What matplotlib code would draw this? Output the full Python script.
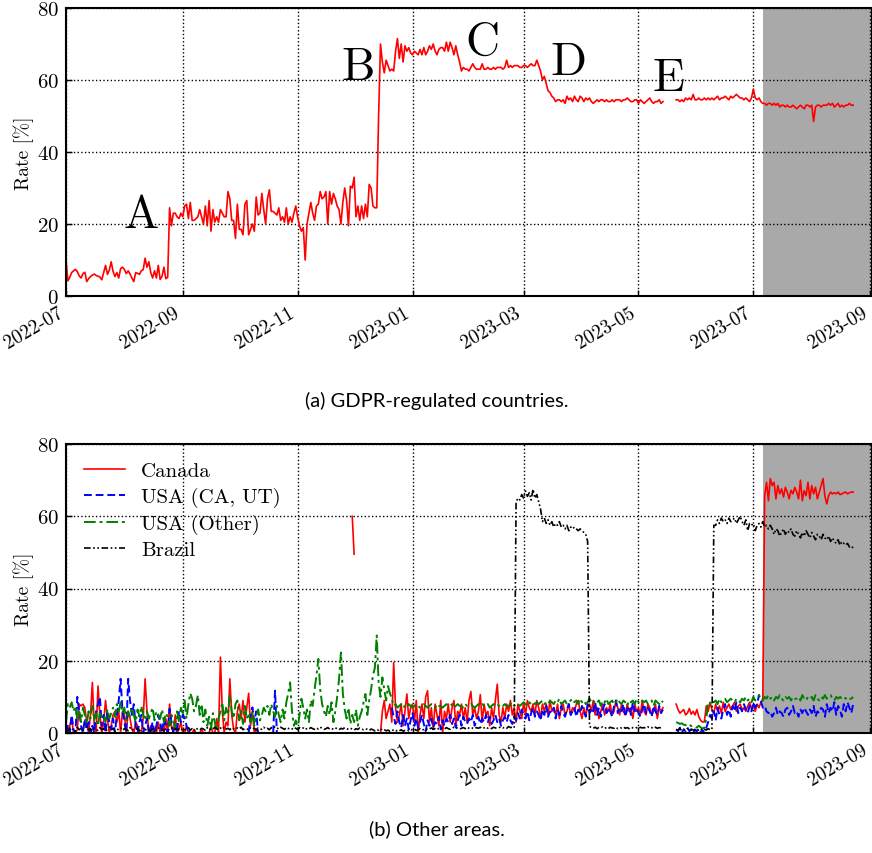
import numpy as np
import pandas as pd
import matplotlib
matplotlib.use("Agg")
import matplotlib.pyplot as plt
import matplotlib.dates as mdates

plt.rcParams['font.family'] = ['cmr10', 'DejaVu Serif']
plt.rcParams['axes.formatter.use_mathtext'] = True

# ---- data (daily values) ----
# GDPR-regulated countries
gdpr_a_start = '2022-07-01'
gdpr_a = [
    10.0, 4.2, 5.2, 6.5, 7.0, 7.4, 6.8, 5.6, 5.0, 6.2,
    6.6, 4.0, 4.8, 5.4, 5.8, 6.1, 5.7, 5.5, 5.3, 4.5,
    6.5, 8.5, 6.0, 7.2, 9.5, 6.8, 5.4, 6.5, 5.0, 7.6,
    8.0, 7.4, 6.2, 7.0, 6.1, 5.0, 4.0, 6.5, 6.3, 6.0,
    7.0, 7.3, 10.5, 8.0, 9.5, 6.5, 5.0, 7.0, 5.0, 8.5,
    4.6, 5.5, 8.0, 4.8, 5.2, 24.5, 19.5, 23.0, 23.0, 22.0,
    21.5, 23.0, 22.0, 25.0, 25.5, 21.5, 26.0, 21.0, 21.0, 21.5,
    22.0, 24.0, 22.0, 20.0, 25.0, 19.5, 26.5, 18.0, 24.0, 20.5,
    22.0, 20.5, 24.0, 23.0, 22.0, 22.0, 29.0, 27.0, 21.0, 21.0,
    16.0, 25.5, 18.5, 18.5, 17.0, 25.5, 26.5, 17.0, 18.5, 20.0,
    18.0, 27.5, 22.5, 23.0, 28.5, 24.0, 20.0, 27.0, 29.5, 23.5,
    23.5, 23.0, 22.5, 24.5, 21.0, 22.0, 20.5, 24.5, 20.0, 22.0,
    20.5, 23.0, 25.0, 22.0, 19.5, 18.0, 19.0, 10.0, 20.0, 23.0,
    26.0, 23.0, 21.0, 25.0, 25.5, 29.0, 27.0, 27.5, 29.0, 20.0,
    29.0, 25.5, 28.5, 27.0, 25.0, 24.0, 20.0, 26.0, 30.0, 26.5,
    19.5, 30.5, 30.0, 33.0, 22.0, 25.0, 21.0, 25.0, 21.5, 25.5,
    22.0, 31.0, 30.0, 25.0, 24.5, 24.5, 50.0, 70.0, 65.0, 62.0,
    65.5, 64.0, 62.5, 63.0, 62.5, 68.0, 71.5, 66.0, 70.0, 65.0,
    69.5, 68.0, 69.0, 67.5, 67.0, 68.0, 67.5, 67.0, 68.5, 67.0,
    69.0, 67.0, 68.0, 69.5, 68.5, 70.0, 68.0, 67.0, 68.5, 69.0,
    69.0, 68.0, 70.5, 68.0, 70.5, 69.0, 67.0, 69.5, 67.0, 65.0,
    62.5, 63.5, 63.0, 63.0, 62.5, 63.5, 64.5, 63.5, 63.0, 63.0,
    63.0, 64.5, 63.0, 63.0, 63.5, 63.0, 63.0, 63.5, 63.0, 63.5,
    63.5, 63.5, 63.0, 63.5, 65.5, 63.5, 64.0, 63.5, 64.0, 64.0,
    64.0, 63.5, 63.5, 64.0, 64.0, 63.5, 64.0, 64.5, 64.0, 64.0,
    65.5, 64.0, 62.5, 60.0, 61.0, 59.0, 57.0, 56.5, 55.5, 55.0,
    54.0, 54.5, 54.5, 54.0, 54.5, 53.5, 55.5, 54.5, 55.0, 54.0,
    55.5, 54.5, 54.0, 55.5, 55.0, 54.0, 55.0, 54.5, 55.0, 54.0,
    53.5, 54.0, 54.5, 54.0, 54.5, 54.5, 54.0, 54.5, 54.0, 54.0,
    54.5, 54.0, 54.5, 54.5, 54.5, 54.0, 54.5, 54.5, 55.0, 54.5,
    54.0, 54.0, 54.5, 54.5, 53.5, 54.5, 54.0, 53.5, 54.0, 54.5,
    55.0, 54.0, 53.5, 54.0, 54.0, 54.5, 53.5, 54.0,
]
gdpr_b_start = '2023-05-21'
gdpr_b = [
    54.5, 54.5, 54.0, 54.5, 54.0, 55.0, 54.5, 55.0, 54.5, 56.0,
    54.5, 54.5, 55.0, 54.5, 54.5, 55.0, 54.5, 55.0, 54.5, 55.0,
    54.5, 55.0, 55.5, 54.5, 55.0, 55.0, 55.5, 55.0, 54.5, 55.5,
    55.0, 55.5, 56.0, 55.5, 55.0, 55.0, 54.5, 55.0, 54.5, 54.0,
    55.0, 57.5, 55.0, 54.5, 55.0, 54.0, 53.5, 53.5, 53.0, 53.5,
    53.5, 53.0, 53.5, 53.0, 53.5, 52.5, 53.0, 53.0, 52.5, 53.0,
    52.5, 52.5, 53.0, 52.5, 52.0, 52.5, 53.0, 52.5, 52.0, 53.0,
    53.0, 52.5, 53.0, 48.5, 52.5, 53.0, 53.0, 52.5, 53.0, 53.0,
    53.0, 53.5, 53.0, 53.5, 52.5, 53.0, 53.5, 52.5, 53.0, 52.5,
    53.0, 53.0, 53.5, 53.0, 53.0,
]

# Canada
canada_a_start = '2022-07-01'
canada_a = [
    0, 0, 2, 4, 0, 0, 1, 8, 7.5, 8,
    7, 3, 0, 5, 14, 2, 0, 13, 5, 0,
    3, 9, 4, 0, 2, 5, 6, 3, 6, 0,
    6, 5, 0, 6, 4, 1, 0, 3, 2, 0,
    0, 4, 15, 6, 0, 2, 0, 1, 0, 3,
    0, 2, 0, 4, 0, 8, 2, 0, 5, 0,
    1, 3, 0, 0, 2, 0, 0, 0, 1, 0,
    0, 0, 1, 0, 0, 0, 0, 2, 0, 0,
    4, 0, 21, 6, 0, 3, 2, 15, 5, 1,
    0, 6, 8, 4, 9, 3, 7, 11, 2, 6,
    0, 1, 0,
]
canada_b_start = '2022-11-30'
canada_b = [60.0, 49.5]
canada_c_start = '2022-12-15'
canada_c = [
    0, 6, 9, 4, 6, 8, 3, 19.5, 7, 3,
    5, 8, 2, 6, 10.8, 4, 7, 8, 3, 9,
    0, 5, 8, 4, 10, 11.7, 3, 7, 1, 8,
    5, 2, 9, 0, 6, 4, 8, 3, 7, 9,
    2, 6, 5, 8, 4, 7, 3, 9, 11.5, 5,
    7, 4, 6, 10.6, 3, 8, 5, 6, 2, 7,
    4, 9, 13.5, 5, 3, 7, 4, 8, 6, 9,
    5, 7, 3, 8, 6, 4, 8.5, 5, 9, 7,
    6, 8, 5, 9, 7, 4, 8, 6, 8, 5,
    9, 6, 7, 5, 8, 4, 7, 8, 5, 6,
    8, 5, 7, 6, 8, 9, 6, 4, 7, 5,
    7, 8, 6, 9, 5, 7, 4, 6, 8, 5,
    7, 6, 8, 5, 6, 9, 7, 5, 8, 6,
    5, 8, 6, 7, 4, 8, 6, 7, 5, 9,
    6, 5, 8, 7, 5, 6, 8, 4, 7, 6,
    7,
]
canada_d_start = '2023-05-21'
canada_d = [
    8.0, 6.5, 5.5, 6.0, 6.5, 5.0, 5.5, 6.8, 5.2, 6.0,
    5.0, 6.5, 4.5, 3.5, 3.0, 3.2, 7.5, 6.0, 8.5, 6.5,
    5.5, 8.0, 6.0, 7.5, 5.5, 8.5, 6.0, 7.0, 8.0, 6.5,
    7.5, 8.5, 6.0, 7.5, 8.0, 6.5, 7.0, 6.0, 7.5, 8.5,
    6.5, 7.5, 6.0, 8.0, 7.0, 8.5, 9.0, 65.7, 69.4, 64.3,
    70.4, 68.5, 69.4, 64.8, 68.5, 66.2, 67.6, 65.3, 68.0, 66.7,
    64.8, 67.2, 66.2, 68.0, 66.7, 64.8, 70.0, 64.3, 67.1, 65.7,
    69.4, 64.8, 68.5, 66.2, 68.0, 64.8, 66.7, 68.5, 70.4, 65.5,
    63.4, 65.7, 66.7, 66.2, 66.5, 66.2, 66.7, 66.0, 66.2, 66.5,
    66.7, 66.2, 66.5, 66.7, 66.7,
]

# USA (CA, UT)
usa_ca_a_start = '2022-07-01'
usa_ca_a = [
    0, 2, 0, 5, 1, 0, 10, 6, 2, 0,
    4, 1, 3, 0, 2, 0, 6, 8, 10, 2,
    5, 0, 6, 3, 1, 4, 0, 5, 9, 15,
    6, 3, 0, 15, 9, 5, 8, 2, 0, 3,
    5, 0, 2, 4, 0, 1, 3, 0, 2, 5,
    3, 0, 4, 2, 0, 6.7, 3, 0, 2, 0,
    6, 3, 5, 4.2, 2, 0, 1,
]
usa_ca_b_start = '2022-10-06'
usa_ca_b = [0, 5, 7.1, 3, 6, 0]
usa_ca_c_start = '2022-10-19'
usa_ca_c = [0, 11.7, 0]
usa_ca_d_start = '2022-12-21'
usa_ca_d = [
    7.0, 4.5, 2.5, 6.0, 3.0, 1.5, 5.0, 2.0, 4.0, 1.0,
    3.5, 5.5, 2.0, 4.0, 1.5, 3.0, 5.0, 2.5, 0.5, 3.5,
    2.0, 4.0, 1.5, 3.0, 2.5, 4.5, 1.0, 3.5, 2.0, 4.0,
    3.0, 5.0, 2.5, 4.0, 1.5, 3.5, 5.0, 2.0, 4.5, 3.0,
    2.5, 4.0, 3.0, 5.0, 2.0, 3.5, 4.5, 2.5, 4.0, 3.0,
    5.0, 3.0, 4.5, 2.5, 3.5, 5.0, 3.0, 4.0, 2.0, 3.5,
    4.5, 3.0, 5.0, 3.5, 2.5, 4.5, 3.5, 5.5, 4.0, 6.5,
    5.0, 4.0, 6.0, 3.5, 5.5, 7.0, 4.5, 6.0, 5.0, 3.5,
    6.5, 5.0, 7.5, 4.5, 6.0, 5.5, 7.0, 4.0, 6.5, 5.0,
    7.5, 5.5, 4.5, 6.5, 8.0, 5.0, 6.0, 7.0, 4.5, 6.5,
    5.5, 7.5, 6.0, 4.5, 8.0, 5.5, 7.0, 6.0, 8.5, 5.0,
    7.0, 4.5, 6.5, 8.0, 5.5, 7.0, 6.0, 4.5, 7.5, 9.0,
    5.5, 7.0, 6.0, 8.0, 4.5, 6.5, 7.5, 5.0, 8.5, 6.0,
    7.0, 5.5, 4.5, 6.5, 8.0, 5.5, 7.0, 6.0, 4.5, 7.5,
    6.0, 5.0, 7.5, 5.5, 6.5,
]
usa_ca_e_start = '2023-05-21'
usa_ca_e = [
    1.0, 0.5, 1.5, 0.0, 1.0, 0.5, 1.5, 0.5, 1.0, 0.0,
    1.0, 0.5, 1.2, 0.3, 0.8, 0.0, 1.5, 3.0, 5.0, 4.0,
    6.0, 3.5, 7.0, 5.0, 4.0, 6.5, 8.0, 5.0, 6.5, 4.5,
    7.5, 6.0, 8.5, 5.5, 7.0, 6.0, 8.0, 6.5, 5.5, 7.5,
    6.0, 8.5, 7.0, 8.0, 10.5, 9.0, 7.0, 7.5, 6.0, 5.5,
    6.0, 4.5, 5.5, 7.0, 5.0, 6.0, 5.5, 4.5, 6.5, 7.0,
    5.0, 6.0, 7.5, 5.5, 6.0, 4.5, 6.5, 5.5, 7.0, 6.0,
    5.0, 6.5, 5.5, 7.5, 4.5, 6.0, 5.5, 7.0, 6.5, 4.5,
    8.0, 5.5, 7.0, 6.0, 8.5, 5.0, 7.5, 6.5, 4.5, 8.0,
    6.0, 8.5, 7.0, 5.5, 8.0,
]

# USA (Other)
usa_other_a_start = '2022-07-01'
usa_other_a = [
    3.0, 8.0, 7.0, 8.5, 6.0, 7.5, 4.0, 6.5, 3.0, 7.0,
    5.0, 2.5, 6.0, 4.0, 7.5, 3.5, 5.5, 2.0, 6.0, 4.5,
    5.0, 3.0, 6.5, 4.0, 5.5, 7.0, 4.5, 8.0, 6.0, 8.5,
    5.5, 7.0, 3.5, 6.0, 4.5, 7.0, 5.0, 3.0, 6.5, 4.5,
    7.5, 5.0, 3.5, 6.0, 4.0, 5.5, 7.0, 3.5, 6.0, 5.0,
    4.0, 6.5, 3.0, 5.5, 4.5, 2.0, 5.0, 3.5, 1.5, 6.0,
    3.0, 7.0, 5.5, 9.0, 4.0, 8.0, 11.0, 9.5, 6.0, 7.5,
    10.5, 5.0, 8.0, 3.0, 6.5, 2.0, 4.5, 1.0, 5.5, 3.0,
    0.5, 4.0, 6.0, 8.5, 3.5, 7.0, 5.0, 10.5, 6.0, 4.0,
    8.0, 9.0, 3.5, 6.0, 2.5, 7.5, 4.0, 5.5, 3.0, 6.0,
    2.0, 4.5, 6.5, 3.5, 5.0, 7.0, 6.0, 7.5, 5.0, 8.0,
    6.0, 4.5, 7.5, 5.0, 3.0, 6.5, 4.0, 8.5, 11.0, 14.0,
    6.0, 2.0, 3.5, 1.0, 5.0, 9.5, 7.0, 4.0, 6.5, 3.0,
    9.0, 7.5, 12.0, 16.0, 20.5, 12.0, 8.0, 6.0, 4.5, 7.5,
    5.0, 8.5, 3.0, 6.0, 10.0, 15.0, 22.3, 11.0, 6.5, 4.0,
    7.0, 2.5, 5.0, 3.0, 6.5, 2.0, 4.5, 6.0, 8.5, 10.8,
    5.0, 9.0, 12.0, 16.0, 18.0, 27.0, 14.0, 10.0, 15.4, 12.0,
    9.0, 13.0, 11.0, 9.5, 7.5, 8.0, 7.0, 7.5, 8.0, 7.0,
    7.5, 7.0, 8.0, 7.5, 7.0, 7.5, 8.0, 7.5, 7.0, 7.5,
    8.0, 7.5, 7.0, 7.5, 8.0, 7.5, 7.0, 8.0, 7.5, 7.5,
    7.0, 7.5, 8.0, 7.5, 7.5, 8.0, 7.0, 7.5, 8.0, 7.5,
    7.5, 7.0, 8.0, 7.5, 7.5, 8.0, 7.5, 7.0, 7.5, 8.0,
    7.5, 8.0, 7.5, 7.5, 8.0, 7.0, 7.5, 8.0, 7.5, 8.0,
    7.5, 8.0, 7.5, 8.0, 7.5, 7.5, 8.0, 8.5, 7.5, 8.0,
    8.0, 7.5, 8.0, 8.5, 8.0, 7.5, 8.5, 8.0, 8.5, 8.0,
    8.5, 8.0, 8.5, 9.0, 8.0, 8.5, 8.0, 9.0, 8.5, 8.0,
    9.0, 8.5, 9.5, 8.0, 8.5, 9.0, 8.0, 8.5, 9.0, 9.5,
    8.5, 9.0, 8.0, 9.5, 8.5, 9.0, 8.0, 8.5, 9.5, 8.5,
    9.0, 8.0, 8.5, 9.0, 7.5, 9.0, 8.5, 9.5, 8.0, 8.5,
    9.0, 8.0, 8.5, 9.5, 8.5, 8.0, 9.0, 8.5, 7.5, 9.0,
    8.5, 9.0, 8.0, 9.5, 8.5, 8.0, 9.0, 8.5, 9.0, 8.0,
    8.5, 9.0, 7.5, 9.0, 8.5, 8.0, 9.0, 8.5,
]
usa_other_b_start = '2023-05-21'
usa_other_b = [
    3.0, 2.8, 2.5, 2.7, 2.3, 2.2, 2.0, 2.4, 1.9, 2.0,
    1.8, 1.5, 2.0, 1.6, 1.2, 1.5, 4.0, 8.5, 8.0, 9.0,
    8.5, 9.0, 8.0, 9.5, 8.5, 9.0, 9.5, 8.5, 9.0, 9.5,
    9.0, 8.5, 9.5, 9.0, 8.5, 9.5, 9.0, 10.0, 9.0, 9.5,
    8.5, 10.0, 9.0, 9.5, 10.5, 9.5, 9.0, 10.0, 9.5, 10.5,
    9.5, 10.0, 9.0, 10.0, 9.5, 10.5, 9.5, 9.0, 10.0, 9.5,
    10.0, 9.0, 10.0, 9.5, 9.5, 10.0, 9.0, 10.5, 9.5, 9.0,
    10.0, 9.5, 10.0, 9.0, 10.5, 9.5, 9.0, 10.0, 9.5, 10.5,
    9.5, 10.0, 10.5, 9.5, 9.0, 10.0, 9.5, 10.0, 9.5, 10.0,
    9.5, 10.0, 9.5, 9.5, 10.0,
]

# Brazil
brazil_a_start = '2022-07-01'
brazil_a = [
    1.0, 0.6, 1.4, 0.8, 1.2, 0.5, 1.6, 0.9, 1.3, 0.7,
    1.1, 1.8, 0.8, 1.2, 0.6, 1.4, 1.0, 0.7, 1.5, 0.9,
    1.2, 0.6, 1.0, 1.6, 0.8, 1.3, 0.5, 1.1, 0.9, 1.4,
    0.7, 1.2, 1.0, 0.6, 1.5, 0.8, 1.1, 0.9, 1.3, 0.6,
    1.0, 1.4, 0.7, 1.2, 0.9, 0.5, 1.3, 1.0, 0.8, 1.5,
    0.9, 1.1, 0.6, 1.3, 1.0, 0.8, 1.4, 0.7, 1.2, 0.9,
    1.1, 0.7, 1.3, 0.9, 1.0, 1.5, 0.8, 1.2, 0.6, 1.4,
    1.0, 0.8, 1.3, 1.1, 0.7, 1.5, 0.9, 1.2, 1.0, 1.6,
    1.2, 0.9, 1.4, 1.0, 1.7, 1.1, 1.3, 0.9, 1.5, 1.2,
    1.0, 1.4, 1.1, 1.6, 0.9, 1.3, 1.2, 0.8, 1.5, 1.1,
    1.3, 0.9, 1.4, 1.2, 1.0, 1.6, 1.1, 1.3, 0.9, 1.5,
    1.2, 1.8, 1.4, 1.1, 1.6, 1.3, 1.0, 1.5, 1.2, 1.4,
    1.1, 1.6, 1.3, 1.0, 1.5, 1.2, 1.4, 0.9, 1.3, 1.1,
    1.5, 1.2, 1.0, 1.4, 1.1, 1.6, 1.3, 1.0, 1.2, 1.5,
    1.1, 1.3, 1.0, 1.4, 1.2, 0.9, 1.3, 1.1, 1.5, 1.2,
    1.0, 1.3, 1.1, 0.8, 1.2, 1.0, 1.4, 1.1, 0.9, 1.2,
    1.0, 0.7, 1.1, 0.9, 0.6, 1.0, 0.8, 1.2, 0.7, 0.9,
    0.6, 0.8, 0.5, 0.9, 0.7, 0.4, 0.8, 0.6, 0.9, 0.5,
    0.7, 0.9, 0.6, 1.0, 0.8, 1.1, 0.7, 0.9, 1.2, 0.8,
    1.0, 1.3, 0.9, 1.1, 1.4, 1.0, 1.2, 0.9, 1.3, 1.1,
    1.4, 1.1, 1.5, 1.2, 1.0, 1.3, 1.6, 1.2, 1.4, 1.1,
    1.3, 1.5, 1.2, 1.6, 1.3, 1.1, 1.4, 1.2, 1.5, 1.3,
    1.6, 1.2, 1.4, 1.7, 1.3, 1.5, 1.2, 1.6, 1.4, 1.3,
    1.5, 1.7, 1.4, 1.6, 1.3, 1.8, 1.5, 1.6, 1.4, 64.0,
    65.0, 64.5, 66.0, 65.0, 67.0, 65.5, 66.5, 64.5, 67.5, 65.0,
    66.0, 64.0, 62.0, 58.5, 59.5, 58.0, 59.0, 57.5, 58.5, 57.0,
    58.0, 57.5, 58.5, 57.0, 57.5, 56.5, 57.5, 56.0, 57.0, 56.5,
    57.0, 56.5, 56.0, 56.5, 56.0, 55.5, 55.0, 53.0, 1.8, 1.5,
    1.3, 1.6, 1.2, 1.5, 1.4, 1.7, 1.3, 1.5, 1.2, 1.6,
    1.4, 1.3, 1.6, 1.2, 1.5, 1.4, 1.7, 1.3, 1.5, 1.2,
    1.6, 1.4, 1.3, 1.5, 1.2, 1.6, 1.4, 1.5, 1.3, 1.7,
    1.4, 1.5, 1.2, 1.6, 1.3, 1.5, 1.4, 1.6,
]
brazil_b_start = '2023-05-21'
brazil_b = [
    1.0, 0.8, 1.2, 0.6, 1.0, 0.8, 1.3, 0.7, 1.0, 0.9,
    0.6, 1.1, 0.8, 1.2, 0.7, 1.0, 0.8, 1.2, 0.9, 1.0,
    57.5, 57.5, 59.0, 58.0, 59.5, 58.5, 59.0, 58.0, 59.5, 58.5,
    59.0, 59.5, 58.0, 59.0, 60.0, 58.5, 57.5, 59.0, 56.0, 58.0,
    57.5, 58.0, 56.0, 57.5, 58.0, 57.0, 58.5, 57.0, 57.5, 56.5,
    57.5, 56.5, 55.0, 56.5, 56.0, 54.5, 55.5, 56.5, 55.0, 56.0,
    55.5, 56.5, 55.0, 54.5, 56.0, 55.0, 54.0, 55.5, 54.5, 56.0,
    55.0, 54.0, 55.5, 54.5, 53.5, 55.0, 54.5, 53.5, 55.0, 54.0,
    53.5, 54.5, 53.0, 54.0, 53.0, 52.5, 53.5, 52.0, 53.0, 52.5,
    52.0, 52.5, 51.5, 51.8, 51.2,
]

# event labels for panel (a): (label, date, y)
events = [('A', '2022-08-10', 19.3), ('B', '2022-12-03', 60.3),
          ('C', '2023-02-07', 67.3), ('D', '2023-03-25', 61.8),
          ('E', '2023-05-17', 57.3)]
shade_start, shade_end = '2023-07-06', '2023-09-10'
x_start, x_end = '2022-07-01', '2023-09-02'


def days(start, vals):
    return pd.date_range(start, periods=len(vals), freq='D')


fig = plt.figure(figsize=(8.72, 8.54), dpi=100)
ax1 = fig.add_axes([66 / 872, 1 - 297 / 854, 806 / 872, 288 / 854])
ax2 = fig.add_axes([66 / 872, 1 - 734 / 854, 806 / 872, 289 / 854])

for ax in (ax1, ax2):
    ax.axvspan(pd.Timestamp(shade_start), pd.Timestamp(shade_end),
               color='#a9a9a9', lw=0, zorder=0)

ax1.plot(days(gdpr_a_start, gdpr_a), gdpr_a, color='red', lw=1.2)
ax1.plot(days(gdpr_b_start, gdpr_b), gdpr_b, color='red', lw=1.2)
for lab, d, y in events:
    ax1.text(pd.Timestamp(d), y, lab, fontsize=34, ha='center', va='baseline')

styles = {
    'Canada': dict(color='red', ls='-', lw=1.2),
    'USA (CA, UT)': dict(color='blue', ls=(0, (4, 2)), lw=1.4),
    'USA (Other)': dict(color='green', ls=(0, (6, 2, 1.5, 2)), lw=1.4),
    'Brazil': dict(color='black', ls=(0, (4, 1.5, 1, 1.5, 1, 1.5)), lw=1.2),
}
series = {
    'Canada': [(canada_a_start, canada_a), (canada_b_start, canada_b),
               (canada_c_start, canada_c), (canada_d_start, canada_d)],
    'USA (CA, UT)': [(usa_ca_a_start, usa_ca_a), (usa_ca_b_start, usa_ca_b),
                     (usa_ca_c_start, usa_ca_c), (usa_ca_d_start, usa_ca_d),
                     (usa_ca_e_start, usa_ca_e)],
    'USA (Other)': [(usa_other_a_start, usa_other_a),
                    (usa_other_b_start, usa_other_b)],
    'Brazil': [(brazil_a_start, brazil_a), (brazil_b_start, brazil_b)],
}
for name, segs in series.items():
    for i, (s, v) in enumerate(segs):
        ax2.plot(days(s, v), v, label=name if i == 0 else None, **styles[name])

ax2.legend(loc='upper left', frameon=False, fontsize=15, handlelength=2.0,
           labelspacing=0.32, borderaxespad=0.5, handletextpad=0.75,
           borderpad=0.35)

for ax in (ax1, ax2):
    ax.set_xlim(pd.Timestamp(x_start), pd.Timestamp(x_end))
    ax.set_ylim(0, 80)
    ax.set_yticks([0, 20, 40, 60, 80])
    ax.xaxis.set_major_locator(mdates.MonthLocator(bymonth=[1, 3, 5, 7, 9, 11]))
    ax.xaxis.set_major_formatter(mdates.DateFormatter('%Y-%m'))
    ax.tick_params(direction='in', length=4, width=1, pad=5)
    ax.tick_params(axis='x', labelsize=14)
    ax.tick_params(axis='y', labelsize=15)
    for lbl in ax.get_xticklabels():
        lbl.set_rotation(30)
        lbl.set_ha('right')
    ax.grid(True, linestyle=':', color='black', lw=1)
    ax.set_axisbelow(True)
    for sp in ax.spines.values():
        sp.set_linewidth(1.5)
    ax.set_ylabel('Rate [%]', fontsize=14)
    ax.yaxis.set_label_coords(-0.040, 0.5)

fig.text(437 / 872, 1 - 401 / 854, '(a) GDPR-regulated countries.',
         ha='center', va='center', family='Lato', fontsize=14.5)
fig.text(437 / 872, 1 - 829 / 854, '(b) Other areas.',
         ha='center', va='center', family='Lato', fontsize=14.5)

fig.savefig('out.png', dpi=100)
